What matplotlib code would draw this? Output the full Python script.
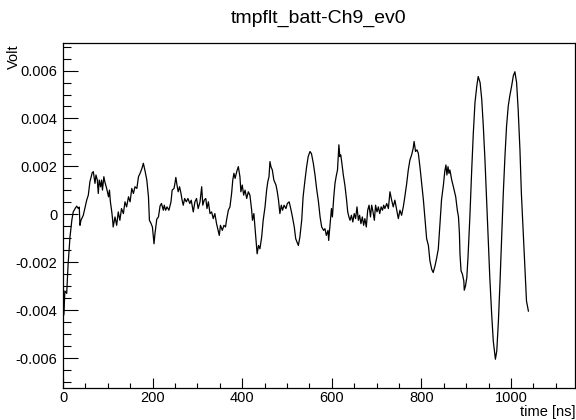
import matplotlib
matplotlib.use('Agg')
import matplotlib.pyplot as plt
from matplotlib.ticker import MultipleLocator, FuncFormatter

plt.rcParams['font.family'] = ['Liberation Sans', 'DejaVu Sans']
plt.rcParams['axes.unicode_minus'] = False

# Forma d'onda (tempo in ns, tensione in mV)
time_ns = [0, 2.1, 4.1, 8.3, 11.4, 15.6, 19.7, 22.8, 27, 30.6, 34.2, 36.3, 37.9, 40.1, 45.3, 52.9, 56.5, 60.1, 65.3, 67.7,
           71.4, 73.6, 76.6, 78.8, 80.9, 84, 86.1, 88.1, 91.2, 93.3, 97.5, 101.6, 103.7, 105.8, 108.9, 110.9, 112, 116.1, 119.8, 123.4,
           127, 130.6, 134.8, 138.4, 142, 146.2, 149.8, 153.5, 157.2, 160.7, 164.9, 168.5, 172.1, 176.3, 179.4, 183.5, 187.1, 190.8, 192.9, 196,
           199.6, 203.2, 205.3, 209.4, 213.1, 216.7, 219.8, 224, 226, 229.1, 232.2, 236.4, 241.1, 243.7, 247.8, 249.9, 251.9, 254.5, 257.1, 260.2,
           263.4, 265.9, 268.5, 271.6, 275.3, 278.9, 283.1, 286.2, 290.8, 294.5, 298.1, 301.7, 305.9, 309.6, 312.1, 315.2, 318.8, 321.4, 324.5, 328.2,
           331.8, 335.4, 339, 342.8, 346.3, 348.9, 351.5, 355.6, 359.3, 362.9, 365, 369.1, 372.7, 376.4, 379, 381.6, 384.2, 387.8, 391.4, 395,
           397.1, 400.2, 403.3, 406.4, 410.1, 413.7, 417.3, 421, 423, 426.1, 428.2, 430.8, 433.4, 436.5, 439.6, 443.5, 446.9, 451, 454.6, 457.2,
           459.9, 462, 464.2, 467.3, 470.7, 475.5, 478.4, 481.1, 484.2, 487.3, 490.1, 493.5, 497.7, 500.8, 504.9, 508.4, 512.2, 516.3, 519.5, 525.4,
           528.8, 532.9, 536, 540.2, 543.9, 547.4, 551.4, 554.7, 558.8, 562.6, 566.1, 570.3, 573.9, 577.5, 581.7, 584.8, 587.9, 591.6, 593.1, 596.9,
           599.3, 601.4, 604.5, 607.2, 609.7, 612.8, 614.4, 615.9, 618, 620, 622.1, 625.8, 629.4, 633.1, 635.6, 638.3, 640.8, 643.9, 647, 650.1,
           653.2, 656.3, 659.4, 662.1, 665.1, 668.2, 671.2, 673.9, 677.1, 680.2, 683.3, 686.4, 689.1, 692.1, 695.1, 697.8, 700.9, 704, 707.1, 710.2,
           713.3, 715.9, 718.5, 722.7, 726.4, 729.9, 733.7, 737.2, 740.9, 744.5, 748.6, 752.2, 755.9, 759.7, 763.1, 767.3, 770.8, 774.5, 778.3, 781.8,
           783.8, 787, 790.1, 793.2, 796.8, 800.4, 804.6, 808.3, 811.8, 815.7, 819.1, 823.2, 826.4, 830.5, 834.2, 837.8, 839.8, 841.9, 845, 849.2,
           852.3, 854.9, 857, 859.5, 861.6, 863.7, 867.8, 871.5, 876.7, 880.3, 882.9, 885, 886.2, 888.6, 891.7, 894.8, 895.8, 898.5, 901.5, 904.1,
           908.3, 912.4, 916, 919.7, 923.8, 926.9, 931.1, 934.8, 938.3, 942, 945.6, 949.4, 952.8, 957, 960.6, 965.3, 968.4, 972, 975.7, 979.2,
           982.9, 986.6, 990.2, 994, 997.4, 1001.6, 1005.3, 1008.8, 1012.6, 1016.1, 1020.1, 1023.3, 1027.5, 1031.2, 1034.7, 1039]
volt_mv = [-4.3, -4.16, -3.2, -3.3, -2.08, -0.95, -0.25, 0.1, 0.24, 0.34, 0.24, 0.3, -0.46, -0.25, -0.04, 0.59, 0.8, 1.36, 1.74, 1.78,
           1.29, 1.64, 1.43, 0.87, 1.43, 1.15, 1.43, 1.01, 1.57, 1.36, 1.08, 0.73, 1.01, 0.52, 0.1, -0.25, -0.53, -0.11, -0.46, 0.1,
           -0.25, 0.24, 0.03, 0.52, 0.31, 0.73, 0.52, 1.08, 0.87, 1.15, 1.08, 1.57, 1.71, 1.92, 2.13, 1.78, 1.43, 0.73, -0.25, -0.36,
           -0.53, -1.23, -0.81, -0.2, -0.11, 0.35, 0.45, 0.17, 0.38, 0.17, 0.31, 0.17, 0.52, 1.01, 1.08, 1.29, 1.54, 1.22, 0.94, 1.15,
           0.87, 0.59, 0.38, 0.66, 0.52, 0.66, 0.45, 0.59, 0.1, 0.52, 0.66, 0.24, 0.52, 1.15, 0.38, 0.59, 0.66, 0.24, 0.52, 0.03,
           0.1, -0.18, 0.03, -0.39, -0.67, -0.88, -0.46, -0.67, -0.46, -0.53, -0.25, 0.17, 0.31, 0.87, 1.43, 1.71, 1.5, 1.78, 1.99, 1.57,
           0.94, 1.22, 0.8, 1.01, 0.66, 0.94, 0.8, 0.2, -0.25, 0.03, -0.46, -1.09, -1.65, -1.3, -1.44, -0.95, -0.25, 0.31, 1.01, 1.36,
           1.57, 2.2, 1.99, 1.85, 1.43, 1.22, 0.94, 0.59, 0.03, 0.38, 0.17, 0.38, 0.24, 0.45, 0.52, 0.24, -0.11, -0.53, -1.02, -1.3,
           -0.95, -0.25, 0.73, 1.43, 1.99, 2.41, 2.62, 2.53, 2.13, 1.64, 1.08, 0.52, -0.11, -0.53, -0.67, -0.6, -0.88, -0.67, -1.09, -0.25,
           0.24, -0.11, 0.73, 1.29, 1.57, 1.85, 2.41, 2.9, 2.41, 2.48, 2.2, 1.64, 1.2, 0.59, 0.1, -0.11, -0.25, -0.04, -0.32, 0.03,
           -0.18, 0.31, -0.25, -0.04, -0.39, -0.11, -0.46, -0.18, -0.53, 0.17, 0.38, -0.11, 0.38, 0.1, -0.25, 0.38, 0.1, 0.31, 0.03, 0.31,
           0.17, 0.38, 0.24, 0.45, 0.24, 0.94, 0.59, 0.31, 0.59, 0.24, -0.18, 0.17, -0.04, 0.31, 0.73, 1.29, 1.85, 2.27, 2.48, 2.76,
           3.04, 2.62, 2.69, 2.55, 1.99, 1.36, 0.59, -0.25, -1.02, -1.3, -1.94, -2.3, -2.43, -2.15, -1.82, -1.45, -0.9, -0.3, 0.6, 1.22,
           1.8, 2.06, 1.64, 1.99, 1.71, 1.85, 1.43, 1.15, 0.73, 0.17, -0.11, -0.81, -1.65, -2.36, -2.5, -2.78, -3.17, -2.99, -2.64, -1.8,
           -0.11, 1.85, 3.39, 4.66, 5.36, 5.75, 5.5, 4.8, 3.68, 2.27, 0.59, -1.09, -2.64, -4.18, -5.3, -6.05, -5.7, -4.46, -2.78, -0.95,
           0.87, 2.41, 3.68, 4.52, 4.94, 5.36, 5.78, 5.95, 5.5, 4.38, 2.69, 0.87, -0.81, -2.22, -3.62, -4.04]

volt = [v * 1e-3 for v in volt_mv]

# Figura in stile ROOT
fig = plt.figure(figsize=(5.76, 4.2), dpi=100)
ax = fig.add_axes([63 / 576, 1 - 388 / 420, (575 - 63) / 576, (388 - 43) / 420])

ax.plot(time_ns, volt, color='black', linewidth=0.9)

ax.set_xlim(0, 1143)
ax.set_ylim(-0.00725, 0.00715)

# Tacche interne, solo a sinistra e in basso
ax.xaxis.set_major_locator(MultipleLocator(200))
ax.xaxis.set_minor_locator(MultipleLocator(50))
ax.yaxis.set_major_locator(MultipleLocator(0.002))
ax.yaxis.set_minor_locator(MultipleLocator(0.0005))
ax.yaxis.set_major_formatter(FuncFormatter(lambda v, p: '0' if abs(v) < 1e-9 else '%.3f' % v))
ax.tick_params(axis='x', which='major', direction='in', length=7.5, width=0.8, labelsize=10.5, pad=2.5)
ax.tick_params(axis='x', which='minor', direction='in', length=3.75, width=0.8)
ax.tick_params(axis='y', which='major', direction='in', length=11, width=0.8, labelsize=10.5, pad=4)
ax.tick_params(axis='y', which='minor', direction='in', length=5.5, width=0.8)
for s in ax.spines.values():
    s.set_linewidth(0.9)

# Titoli
fig.text((63 + 575) / 2 / 576, 1 - 18 / 420, 'tmpflt_batt-Ch9_ev0', ha='center', va='center', fontsize=14)
fig.text(14 / 576, 1 - 44 / 420, 'Volt', rotation=90, ha='center', va='top', fontsize=10.5)
fig.text(575 / 576, 1 - 412 / 420, 'time [ns]', ha='right', va='center', fontsize=10.5)

fig.savefig('out.png', dpi=100)
